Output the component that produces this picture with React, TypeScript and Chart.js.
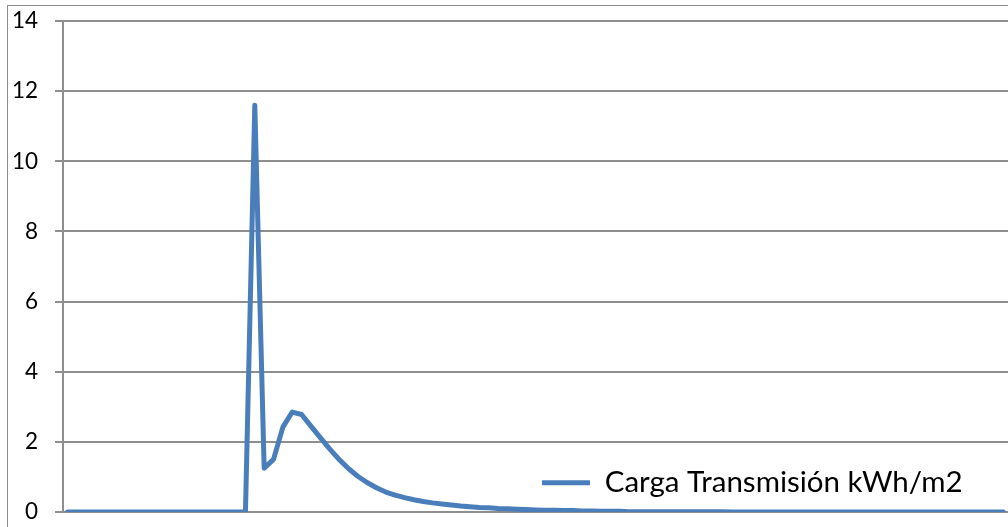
import React, { useEffect, useRef } from "react";
import { Chart, registerables } from "chart.js";

Chart.register(...registerables);

const seriesName = "Carga Transmisión kWh/m2";

const cargaValues: number[] = [
  0, 0, 0, 0, 0, 0, 0, 0, 0, 0,
  0, 0, 0, 0, 0, 0, 0, 0, 0, 0,
  11.6, 1.25, 1.5, 2.42, 2.85, 2.78, 2.45, 2.12, 1.8, 1.5,
  1.24, 1.02, 0.84, 0.69, 0.57, 0.48, 0.41, 0.35, 0.3, 0.26,
  0.23, 0.2, 0.17, 0.15, 0.13, 0.12, 0.1, 0.09, 0.08, 0.07,
  0.06, 0.05, 0.05, 0.04, 0.04, 0.03, 0.03, 0.02, 0.02, 0.02,
  0.01, 0.01, 0.01, 0.01, 0.01, 0.01, 0.01, 0.01, 0.01, 0.01,
  0.01, 0, 0, 0, 0, 0, 0, 0, 0, 0,
  0, 0, 0, 0, 0, 0, 0, 0, 0, 0,
  0, 0, 0, 0, 0, 0, 0, 0, 0, 0,
  0,
];

const categories: string[] = cargaValues.map((_, i) => String(i + 1));

const yMin = 0;
const yMax = 14;
const yStep = 2;

const GRID = "#8e8e8e";

const legendPlacer = {
  id: "legendPlacer",
  beforeDraw(chart: any) {
    const lg = chart.legend;
    if (!lg) return;
    lg.left = 539;
    lg.right = 1008;
    lg.top = 465;
    lg.bottom = 527;
    lg.width = lg.right - lg.left;
    lg.height = lg.bottom - lg.top;
  },
};

export default function App() {
  const canvasRef = useRef<HTMLCanvasElement | null>(null);

  useEffect(() => {
    const canvas = canvasRef.current;
    if (!canvas) return;
    const chart = new Chart(canvas, {
      type: "line",
      data: {
        labels: categories,
        datasets: [
          {
            label: seriesName,
            data: cargaValues,
            borderColor: "#4a7ebb",
            backgroundColor: "#4a7ebb",
            borderWidth: 5,
            borderCapStyle: "round",
            borderJoinStyle: "round",
            pointRadius: 0,
            pointHoverRadius: 0,
            tension: 0,
            fill: false,
          },
        ],
      },
      options: {
        responsive: false,
        animation: false,
        devicePixelRatio: 1,
        layout: { autoPadding: false, padding: { left: 0, top: 21, right: 0, bottom: 15 } },
        plugins: {
          tooltip: { enabled: false },
          legend: {
            display: true,
            position: "chartArea",
            align: "start",
            labels: {
              usePointStyle: true,
              pointStyle: "line",
              pointStyleWidth: 48,
              padding: 3,
              color: "#000000",
              font: { family: "Lato", size: 29.5 },
            },
          },
        },
        scales: {
          x: {
            type: "category",
            offset: true,
            grid: { display: false },
            border: { display: true, color: GRID, width: 2 },
            ticks: { display: false },
            afterFit: (s: any) => {
              s.height = 0;
              s.paddingLeft = 0;
              s.paddingRight = 0;
            },
          },
          y: {
            min: yMin,
            max: yMax,
            ticks: {
              stepSize: yStep,
              color: "#000000",
              padding: 17,
              font: { family: "Lato", size: 22.5 },
            },
            grid: { color: GRID, lineWidth: 2, tickLength: 8, drawTicks: true },
            border: { display: true, color: GRID, width: 2 },
            afterFit: (s: any) => {
              s.width = 63;
              s.paddingTop = 0;
              s.paddingBottom = 0;
            },
          },
        },
      },
      plugins: [legendPlacer],
    });
    return () => chart.destroy();
  }, []);

  return (
    <div
      style={{
        position: "fixed",
        left: 0,
        top: 0,
        width: 1008,
        height: 527,
        overflow: "hidden",
        background: "#ffffff",
      }}
    >
      <div
        style={{
          position: "absolute",
          left: 7,
          top: 5,
          width: 1200,
          height: 700,
          border: "1px solid #8c8c8c",
        }}
      />
      <canvas
        ref={canvasRef}
        width={1008}
        height={527}
        style={{ position: "absolute", left: 0, top: 0, width: 1008, height: 527 }}
      />
    </div>
  );
}
